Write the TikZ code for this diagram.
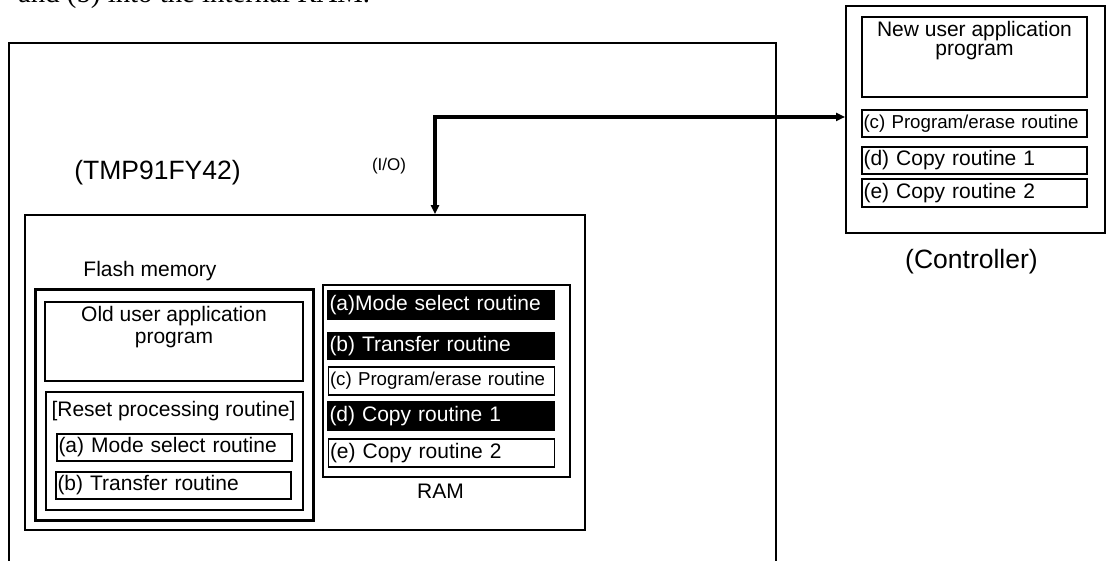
\documentclass[tikz,border=0pt]{standalone}
\usepackage{fontspec}
\setmainfont{Liberation Sans}
\newfontfamily\bodyserif{Liberation Serif}
\usetikzlibrary{arrows.meta}
\newcommand\fmain{\fontsize{21}{22}\selectfont}
\newcommand\fsmall{\fontsize{18.7}{21}\selectfont}
\newcommand\fbig{\fontsize{26.5}{30}\selectfont}
\newcommand\fio{\fontsize{17}{19}\selectfont}
\tikzset{
  boxframe/.style={draw=black, line width=#1, inner sep=0pt},
  rt/.style={draw=black, line width=1.6pt, inner xsep=1.5pt, inner ysep=0pt,
    align=left, font=\fmain, anchor=center},
  rtblack/.style={rt, fill=black, text=white},
  lbl/.style={inner sep=0pt, anchor=base, font=\fmain},
}
\begin{document}
\begin{tikzpicture}[x=1pt, y=-1pt]
\useasboundingbox (0,0) rectangle (1106,561);
% clipped body text at the top
\node[inner sep=0pt, anchor=base west, font=\bodyserif\fontsize{28.8}{30}\selectfont] (bodytext) at (18,3) {and (b) into the internal RAM.};

% outer MCU frame (open at the bottom)
\coordinate (mcuBL) at (9,561);
\coordinate (mcuTL) at (9,43);
\coordinate (mcuTR) at (776,43);
\coordinate (mcuBR) at (776,561);
\draw[line width=2.5pt] (mcuBL) -- (mcuTL) -- (mcuTR) -- (mcuBR);
\node[lbl, font=\fbig] (tmp) at (157.5,180) {(TMP91FY42)};
\node[lbl, font=\fio] (io) at (389,170.5) {(I/O)};

% chip internal box
\node[boxframe=1.6pt, minimum width=560pt, minimum height=315pt] (chip) at (305,372.5) {};

% flash memory
\node[lbl] (flashlbl) at (150,277) {Flash memory};
\node[boxframe=3pt, minimum width=278pt, minimum height=230pt] (flash) at (174,405) {};
\node[boxframe=2pt, minimum width=258pt, minimum height=79pt] (oldapp) at (174,341.5) {};
\node[inner sep=0pt, anchor=north, align=center, font=\fmain, yshift=-5pt] (oldapptxt) at (oldapp.north) {Old user application\\program};
\node[boxframe=1.6pt, minimum width=257pt, minimum height=118pt] (reset) at (174.5,451) {};
\node[lbl] (resettxt) at (173.5,416.7) {[Reset processing routine]};
\node[rt, text width=232pt, minimum height=27pt] (fa) at (174.5,447.5) {(a) Mode select routine};
\node[rt, text width=232pt, minimum height=27pt] (fb) at (173.5,485.5) {(b) Transfer routine};

% RAM
\node[boxframe=1.6pt, minimum width=247pt, minimum height=192pt] (ram) at (446.5,381) {};
\node[rtblack, text width=223pt, minimum height=28pt] (ra) at (441,305) {(a)Mode select routine};
\node[rtblack, text width=223pt, minimum height=26pt] (rb) at (441,346) {(b) Transfer routine};
\node[rt, font=\fsmall, text width=223pt, minimum height=28pt] (rc) at (441.5,381) {(c) Program/erase routine};
\node[rtblack, text width=223pt, minimum height=28pt] (rd) at (441,416) {(d) Copy routine 1};
\node[rt, text width=223pt, minimum height=28pt] (re) at (441.5,453) {(e) Copy routine 2};
\node[lbl] (ramlbl) at (440.5,498) {RAM};

% controller
\node[boxframe=2pt, minimum width=259pt, minimum height=227pt] (ctrl) at (975.5,119.5) {};
\node[boxframe=2pt, minimum width=225pt, minimum height=80pt] (newapp) at (974.5,57) {};
\node[inner sep=0pt, anchor=north, align=center, font=\fontsize{21}{19.5}\selectfont, yshift=-5pt] (newapptxt) at (newapp.north) {New user application\\program};
\node[rt, line width=2pt, font=\fsmall, text width=222pt, minimum height=27pt] (cc) at (974.5,123.5) {(c) Program/erase routine};
\node[rt, line width=2pt, text width=222pt, minimum height=27pt] (cd) at (974.5,160.5) {(d) Copy routine 1};
\node[rt, line width=2pt, text width=222pt, minimum height=28pt] (ce) at (974.5,193) {(e) Copy routine 2};
\node[lbl, font=\fbig] (ctrllbl) at (971.5,269) {(Controller)};

% I/O connection
\coordinate (junc) at (435,117);
\draw[line width=3.5pt, line join=miter, {Triangle[length=9pt,width=8pt]}-{Triangle[length=9pt,width=8pt]}]
  (junc |- chip.north) -- (junc) -- (junc -| ctrl.west);
\end{tikzpicture}
\end{document}
